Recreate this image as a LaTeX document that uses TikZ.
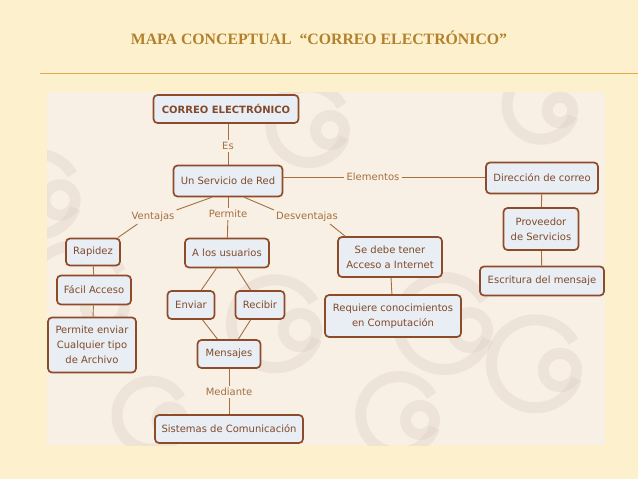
\documentclass[tikz,border=0pt]{standalone}
\usepackage{fontspec}
\setmainfont{DejaVu Sans}
\newfontfamily\titlefont{Liberation Serif}
\usetikzlibrary{calc}
\definecolor{pagecream}{HTML}{FCF1CC}
\definecolor{panelcream}{HTML}{F8F0E4}
\definecolor{titlegold}{HTML}{B3802E}
\definecolor{rulegold}{HTML}{E2AA4C}
\definecolor{boxbrown}{HTML}{8E4B2A}
\definecolor{boxfill}{HTML}{E8EEF3}
\definecolor{textbrown}{HTML}{82492A}
\definecolor{linkbrown}{HTML}{A66F40}
\definecolor{markgray}{HTML}{DCCDC4}

\begin{document}
\begin{tikzpicture}[
    x=1pt, y=-1pt,
    concept/.style={draw=boxbrown, line width=1.7pt, rounded corners=4pt,
      fill=boxfill, text=textbrown, align=center, inner sep=2pt,
      minimum height=28pt, font=\fontsize{10}{15}\selectfont},
    lbl/.style={text=linkbrown, inner sep=2pt, font=\fontsize{10}{12}\selectfont},
    link/.style={draw=linkbrown, line width=0.9pt},
    atmark/.style={draw=markgray, line width=11pt, opacity=0.35}
  ]
  \useasboundingbox (0,0) rectangle (638,479);

  % Page and title
  \fill[pagecream] (0,0) rectangle (638,479);
  \node[text=titlegold, font=\titlefont\bfseries\fontsize{15.8}{18}\selectfont] (title) at (319,38)
    {MAPA CONCEPTUAL \ “CORREO ELECTRÓNICO”};
  \draw[rulegold, line width=0.8pt] (40,73) -- (638,73);

  % Panel with faint @ marks
  \fill[panelcream] (47,92) rectangle (605,445);
  \begin{scope}
    \clip (47,92) rectangle (605,445);
    \foreach \mx/\my/\mr in {105/305/52, 300/330/44, 470/330/46, 60/200/40, 330/130/38,
                             560/370/44, 170/420/34, 420/420/38, 560/110/34} {
      \draw[atmark] (\mx,\my) circle (0.38*\mr);
      \draw[atmark] (\mx+0.38*\mr,\my+0.2*\mr) arc (20:330:\mr);
    }
  \end{scope}

  % Concepts
  \node[concept, minimum width=145pt, font=\bfseries\fontsize{10}{12}\selectfont] (correo) at (226,109) {CORREO ELECTRÓNICO};
  \node[concept, minimum width=109pt, minimum height=31pt] (servicio) at (228,181) {Un Servicio de Red};
  \node[concept, minimum width=112pt, minimum height=31pt] (direccion) at (542,178) {Dirección de correo};
  \node[concept, minimum width=54pt, minimum height=27pt] (rapidez) at (93,252) {Rapidez};
  \node[concept, minimum width=84pt, minimum height=29pt] (usuarios) at (227,253) {A los usuarios};
  \node[concept, minimum width=104pt, minimum height=40pt] (acceso) at (390,257) {Se debe tener\\Acceso a Internet};
  \node[concept, minimum width=75pt, minimum height=42pt] (proveedor) at (541,229) {Proveedor\\de Servicios};
  \node[concept, minimum width=124pt, minimum height=29pt] (escritura) at (542,281) {Escritura del mensaje};
  \node[concept, minimum width=74pt, minimum height=29pt] (facil) at (94,290) {Fácil Acceso};
  \node[concept, minimum width=47pt] (enviar) at (191,305) {Enviar};
  \node[concept, minimum width=49pt] (recibir) at (260,305) {Recibir};
  \node[concept, minimum width=136pt, minimum height=42pt] (requiere) at (393,316) {Requiere conocimientos\\en Computación};
  \node[concept, minimum width=88pt, minimum height=55pt] (archivo) at (92,345) {Permite enviar\\Cualquier tipo\\de Archivo};
  \node[concept, minimum width=63pt] (mensajes) at (229,354) {Mensajes};
  \node[concept, minimum width=148pt] (sistemas) at (229,429) {Sistemas de Comunicación};

  % Link words
  \node[lbl] (es) at (228,146) {Es};
  \node[lbl] (elementos) at (373,177) {Elementos};
  \node[lbl] (ventajas) at (153,217) {Ventajas};
  \node[lbl] (permite) at (228,214) {Permite};
  \node[lbl] (desventajas) at (307,217) {Desventajas};
  \node[lbl] (mediante) at (229,392) {Mediante};

  % Connectors
  \draw[link] (es |- correo.south) -- (es);
  \draw[link] (es) -- (servicio);
  \draw[link] (servicio.east |- elementos) -- (elementos);
  \draw[link] (elementos) -- (direccion.west |- elementos);
  \draw[link] (servicio.225) -- (ventajas.north east);
  \draw[link] ($(ventajas.south west)+(8,0)$) -- ($(rapidez.north east)+(-3,0)$);
  \draw[link] (servicio) -- (permite);
  \draw[link] (permite) -- (usuarios);
  \draw[link] (servicio.315) -- (desventajas.north west);
  \draw[link] ($(desventajas.south east)+(-10,0)$) -- ($(acceso.north west)+(8,0)$);
  \draw[link] (direccion) -- (proveedor);
  \draw[link] (proveedor) -- (escritura);
  \draw[link] (rapidez) -- (facil);
  \draw[link] (facil) -- (archivo);
  \draw[link] (usuarios) -- (enviar);
  \draw[link] (usuarios) -- (recibir);
  \draw[link] (enviar) -- (mensajes);
  \draw[link] (recibir) -- (mensajes);
  \draw[link] (acceso) -- (requiere);
  \draw[link] (mensajes) -- (mediante);
  \draw[link] (mediante) -- (sistemas);
\end{tikzpicture}
\end{document}
